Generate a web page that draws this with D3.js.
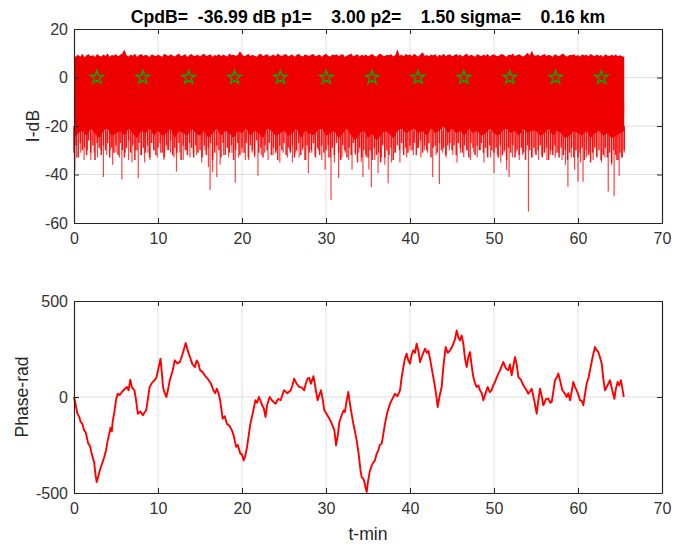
<!DOCTYPE html>
<html>
<head>
<meta charset="utf-8">
<script src="https://cdn.jsdelivr.net/npm/d3@7"></script>
<style>
  html, body { margin: 0; padding: 0; background: #fff; }
  svg { display: block; font-family: "Liberation Sans", Arial, Helvetica, sans-serif; }
  .tick text { fill: #333; font-size: 16px; }
  .tick line { stroke: #262626; }
  .domain { stroke: #262626; }
</style>
</head>
<body>
<svg id="fig" width="697" height="547"></svg>
<script>
// ---- Title ----
const titleText = "CpdB=  -36.99 dB p1=    3.00 p2=    1.50 sigma=    0.16 km";

// ---- Intensity panel (I-dB vs t-min) ----
// Peak level of the trace, one value every 0.25 min from 0 to 65.5 min
const peakStep = 0.25;
const intensityPeak = [
  7.8,8.9,9.4,8.6,9.8,8.4,9.2,9.6,8.8,9.3,8.5,9.7,9.0,8.7,9.5,8.9,9.9,8.6,9.3,9.1,
  9.6,8.8,9.4,9.9,11.5,9.2,8.7,9.5,9.0,9.8,8.6,9.3,9.7,8.9,9.4,9.1,8.5,9.6,9.2,8.8,
  9.5,9.0,8.6,9.8,9.3,8.9,9.6,9.1,8.7,9.4,9.9,8.8,9.2,9.6,8.5,9.3,9.7,8.9,9.0,9.5,
  8.7,9.4,9.8,8.9,9.2,9.6,8.6,9.3,9.0,9.7,8.8,9.5,9.1,8.7,9.9,9.2,9.4,9.0,9.3,10.8,
  9.6,8.8,9.2,9.7,8.9,9.4,9.0,8.6,9.5,9.8,8.9,9.3,9.6,8.7,9.1,9.5,8.8,9.9,9.2,8.9,
  9.4,9.7,8.8,9.2,9.5,8.6,9.3,9.8,9.0,8.7,9.6,9.2,8.9,9.4,9.7,8.8,9.1,9.5,8.6,9.3,
  9.8,9.0,8.7,9.5,9.2,9.6,8.9,9.3,9.7,8.5,9.1,9.4,9.9,8.8,9.2,9.6,8.7,9.4,9.0,9.5,
  8.8,9.3,9.7,9.0,8.6,9.5,9.8,9.1,8.9,9.4,9.2,9.6,8.7,9.3,11.6,9.0,9.4,8.8,9.7,9.2,
  9.5,8.9,9.8,9.2,8.7,9.6,10.4,9.0,9.3,8.8,9.5,9.1,9.7,8.6,9.4,9.0,9.8,8.9,9.3,9.6,
  8.8,9.2,9.7,9.0,9.5,8.7,9.3,9.9,8.9,9.4,9.1,8.6,9.6,9.2,8.8,9.5,9.0,9.7,8.7,9.3,
  9.6,9.0,8.8,9.4,9.7,9.1,8.6,9.5,9.2,9.8,8.9,9.3,9.6,9.0,8.7,9.4,10.2,9.1,11.0,9.2,
  9.0,9.5,8.8,9.3,9.7,8.9,9.4,9.1,8.6,9.6,9.2,8.8,9.5,9.9,9.0,8.7,9.4,9.2,9.6,8.9,
  9.3,8.7,9.6,9.1,9.4,8.8,9.7,9.2,8.9,9.5,9.0,9.3,8.6,9.6,9.1,8.9,9.4,9.0,9.5,8.8,
  9.2,8.9,8.5
];
// Fade level reached by most samples, same 0.25 min sampling
const intensityFade = [
  -31,-28,-33,-27,-30,-29,-32,-26,-31,-28,-34,-27,-29,-32,-28,-30,-27,-33,-29,-31,
  -28,-32,-27,-30,-33,-29,-26,-31,-28,-34,-30,-27,-32,-29,-31,-28,-33,-27,-30,-32,
  -29,-27,-31,-33,-28,-30,-26,-32,-29,-31,-27,-34,-28,-30,-32,-27,-29,-33,-28,-31,
  -30,-33,-28,-32,-29,-27,-34,-31,-28,-30,-33,-27,-32,-29,-31,-28,-34,-30,-27,-32,
  -29,-31,-27,-33,-28,-30,-32,-26,-31,-29,-33,-28,-30,-27,-32,-29,-31,-34,-28,-30,
  -27,-32,-29,-31,-28,-33,-30,-27,-32,-29,-34,-28,-31,-30,-27,-33,-29,-32,-28,-31,
  -30,-28,-33,-29,-32,-27,-31,-34,-28,-30,-33,-29,-32,-27,-31,-35,-29,-33,-30,-32,
  -33,-30,-34,-29,-32,-31,-35,-28,-33,-30,-32,-29,-34,-31,-28,-30,-27,-32,-29,-31,
  -28,-30,-27,-32,-29,-26,-31,-28,-30,-27,-33,-29,-28,-31,-27,-30,-29,-32,-28,-27,
  -30,-28,-32,-27,-29,-31,-28,-30,-33,-27,-29,-32,-28,-30,-27,-31,-29,-33,-28,-30,
  -31,-29,-33,-28,-32,-30,-34,-29,-31,-28,-33,-30,-32,-29,-31,-34,-28,-30,-33,-29,
  -32,-30,-28,-33,-31,-29,-34,-30,-32,-28,-31,-33,-29,-32,-30,-34,-31,-29,-33,-30,
  -33,-31,-29,-34,-30,-32,-35,-31,-29,-33,-30,-34,-32,-29,-33,-31,-35,-30,-32,-34,
  -31,-33,-30
];
// Solid lower edge of the dense band, one value every 0.5 min
const coreStep = 0.5;
const intensityCore = [
  -25, -23, -22, -24, -21, -23, -25, -22, -21, -24,
  -23, -22, -24, -21, -23, -25, -22, -23, -21, -24,
  -22, -24, -23, -21, -25, -22, -23, -24, -21, -23,
  -24, -22, -25, -23, -21, -24, -22, -23, -25, -22,
  -23, -21, -24, -22, -23, -25, -21, -22, -24, -23,
  -22, -24, -23, -21, -25, -22, -23, -24, -22, -21,
  -24, -23, -22, -25, -23, -21, -24, -26, -23, -22,
  -25, -23, -26, -24, -22, -23, -25, -22, -21, -23,
  -22, -21, -23, -22, -24, -21, -23, -22, -20, -23,
  -21, -23, -22, -24, -21, -23, -22, -24, -23, -21,
  -23, -24, -22, -21, -23, -22, -24, -21, -23, -22,
  -22, -24, -23, -21, -24, -22, -23, -25, -24, -22,
  -23, -24, -22, -25, -23, -22, -24, -23, -25, -24,
  -23, -22
];
// Deep fades below the dense band: [t-min, dB]
const fadeDips = [
  [0.1,-38.5],[0.3,-33],[0.8,-31],[1.2,-34],[1.6,-30],[2.0,-34],[2.4,-31],[2.8,-33],[3.2,-30],[3.5,-41],
  [3.9,-32],[4.3,-30],[4.6,-36],[5.0,-31],[5.4,-33],[5.7,-42],[6.1,-31],[6.5,-34],[6.9,-35],[7.3,-30],
  [7.65,-41.5],[8.0,-32],[8.4,-35],[8.8,-31],[9.05,-34],[9.5,-30],[9.9,-33],[10.3,-31],[10.7,-34],[11.1,-30],
  [11.5,-31],[11.9,-33],[12.2,-38.8],[12.6,-31],[13.0,-34],[13.4,-30],[13.8,-33],[14.2,-31],[14.6,-32],[15.2,-35],
  [15.6,-30],[16.0,-37],[16.2,-46.4],[16.5,-39],[17.0,-41],[17.4,-36],[17.8,-32],[18.4,-33],[18.8,-31],[19.2,-43.4],
  [19.6,-33],[20.0,-31],[20.4,-34],[20.8,-34],[21.2,-31],[21.5,-33],[21.9,-40.5],[22.3,-32],[22.7,-31],[23.1,-34],
  [23.7,-32],[24.1,-30],[24.5,-35],[24.9,-31],[25.4,-33],[25.7,-30],[26.0,-35],[26.4,-31],[26.8,-33],[27.2,-30],
  [27.6,-34],[27.9,-39.5],[28.3,-31],[28.7,-32],[29.1,-30],[29.5,-34],[29.9,-38],[30.3,-33],[30.6,-50.5],[31.0,-35],
  [31.5,-41.4],[31.9,-33],[32.3,-31],[32.7,-34],[33.1,-38],[33.5,-32],[33.9,-31],[34.2,-34.7],[34.4,-41],[34.8,-33],
  [35.1,-38],[35.4,-45.3],[35.8,-34],[36.2,-39.5],[36.6,-33],[37.0,-36],[37.4,-43.6],[37.8,-35],[38.2,-31],[38.8,-35],
  [39.2,-30],[39.6,-33],[40.0,-30],[40.4,-32],[40.9,-29],[41.3,-33],[41.7,-30],[42.1,-31],[42.7,-41],[43.1,-32],
  [43.5,-43.9],[43.9,-31],[44.3,-33],[44.7,-30],[45.1,-32],[45.6,-35],[46.0,-31],[46.4,-33],[46.8,-30],[47.2,-34],
  [47.6,-31],[48.0,-33],[48.4,-30],[48.8,-35],[49.2,-31],[49.6,-33],[50.0,-39.5],[50.4,-32],[50.8,-35],[51.2,-31],
  [51.5,-38],[51.8,-41],[52.2,-33],[52.6,-31],[53.0,-34],[53.4,-32],[53.8,-30],[54.1,-55.3],[54.5,-33],[54.9,-31],
  [55.3,-34],[55.7,-32],[56.0,-31],[56.3,-34],[56.7,-32],[57.0,-30],[57.3,-33],[57.7,-31],[58.1,-34],[58.5,-36],
  [58.8,-45],[59.2,-33],[59.6,-38],[60.0,-43],[60.3,-35],[60.6,-43],[61.0,-33],[61.4,-31],[61.8,-34],[62.2,-32],
  [62.8,-35],[63.2,-33],[63.6,-47],[64.0,-36],[64.3,-49],[64.6,-34],[64.9,-40.5],[65.2,-33],[65.5,-31]
];
// Reference markers (pentagrams)
const markerTime = [2.73, 8.19, 13.65, 19.11, 24.57, 30.03, 35.49, 40.95, 46.41, 51.87, 57.33, 62.79];
const markerValue = [0, 0, 0, 0, 0, 0, 0, 0, 0, 0, 0, 0];

// ---- Phase panel (Phase-rad vs t-min) ----
const phaseTime = [
  0,0.2,0.4,0.6,0.8,1.0,1.2,1.4,1.7,1.9,2.1,2.4,2.55,2.7,2.85,3.0,3.2,3.4,3.6,3.8,
  4.0,4.2,4.35,4.5,4.6,4.8,5.0,5.2,5.45,5.7,6.0,6.3,6.5,6.7,6.9,7.2,7.4,7.6,7.9,8.2,
  8.4,8.6,8.8,9.0,9.3,9.6,9.8,10.0,10.3,10.45,10.6,10.8,11.0,11.2,11.4,11.7,12.0,12.3,12.6,12.9,
  13.3,13.55,13.8,14.1,14.4,14.6,14.8,15.0,15.3,15.6,16.0,16.3,16.6,16.8,17.0,17.2,17.4,17.7,17.95,18.2,
  18.5,18.8,19.0,19.3,19.5,19.8,20.0,20.2,20.4,20.6,20.8,21.0,21.3,21.6,21.8,22.0,22.2,22.4,22.6,22.8,
  23.0,23.3,23.6,24.0,24.3,24.6,24.8,25.0,25.4,25.8,26.0,26.2,26.5,26.8,27.1,27.4,27.6,27.8,28.0,28.2,
  28.5,28.7,29.0,29.2,29.4,29.6,29.8,30.1,30.4,30.7,31.0,31.2,31.4,31.6,31.86,32.1,32.26,32.45,32.66,32.9,
  33.25,33.45,33.65,33.9,34.1,34.25,34.5,34.7,34.84,35.0,35.24,35.5,35.83,36.0,36.23,36.4,36.63,36.8,37.02,37.3,
  37.62,37.9,38.21,38.5,38.81,39.0,39.21,39.4,39.6,39.8,40.0,40.2,40.4,40.6,40.79,41.0,41.19,41.5,41.79,42.0,
  42.2,42.38,42.7,42.98,43.15,43.29,43.5,43.77,44.0,44.25,44.5,44.76,45.0,45.16,45.35,45.56,45.75,45.95,46.15,46.35,
  46.55,46.75,46.95,47.14,47.35,47.54,47.75,47.94,48.15,48.33,48.55,48.73,49.0,49.25,49.5,49.72,49.9,50.12,50.4,50.71,
  50.9,51.11,51.4,51.71,51.9,52.1,52.3,52.5,52.7,52.9,53.2,53.49,53.8,54.09,54.3,54.48,54.8,55.08,55.3,55.48,
  55.7,55.87,56.2,56.47,56.7,56.87,57.1,57.26,57.45,57.66,57.9,58.13,58.4,58.65,58.85,59.05,59.25,59.44,59.65,59.84,
  60.05,60.24,60.45,60.63,60.85,61.03,61.25,61.43,61.7,62.02,62.2,62.42,62.6,62.82,63.0,63.21,63.5,63.81,64.05,64.33,
  64.5,64.72,64.9,65.12,65.3,65.45
];
const phaseValue = [
  0,-40,-87,-100,-130,-140,-174,-185,-243,-255,-295,-340,-400,-443,-420,-395,-365,-340,-313,-280,
  -230,-191,-160,-180,-130,-80,-17,17,10,26,40,52,35,90,50,35,-20,-87,-75,-95,
  -80,-69,-10,52,75,87,100,139,200,130,52,20,0,40,87,130,191,175,182,220,
  281,240,208,170,156,190,177,140,130,110,90,70,35,20,43,20,-17,-113,-100,-139,
  -150,-174,-200,-260,-250,-295,-300,-330,-305,-260,-200,-139,-80,-17,-30,0,-20,-43,-60,-104,
  -40,0,-20,-35,-10,-17,10,35,20,35,60,95,70,52,50,35,70,95,100,69,
  108,60,-17,10,35,-10,-69,-90,-113,-140,-174,-252,-200,-130,-95,-70,-78,-20,26,-50,
  -139,-180,-226,-300,-380,-417,-430,-470,-495,-440,-382,-350,-330,-300,-278,-250,-243,-200,-139,-80,
  -35,-10,17,5,35,100,156,200,226,190,174,220,243,230,278,240,182,220,252,230,
  240,200,120,52,0,-52,0,52,170,260,230,243,260,278,300,347,310,295,320,278,
  200,156,210,234,160,104,70,52,60,35,20,-17,20,52,25,35,60,78,110,139,
  160,182,150,139,170,113,160,208,170,104,90,61,40,17,30,43,-20,-87,-10,43,
  0,-43,-10,-9,-30,-26,40,87,100,122,80,35,20,0,20,-17,30,78,50,35,
  10,-17,-20,-43,20,69,100,139,200,260,245,234,210,174,100,35,60,87,40,-9,
  40,78,60,87,40,0
];

// ---- Axis ticks ----
const timeTicks = [0, 10, 20, 30, 40, 50, 60, 70];
const intensityTicks = [20, 0, -20, -40, -60];
const phaseTicks = [500, 0, -500];

// ---- Layout ----
const svg = d3.select("#fig");
const left = 74, right = 662;
const panels = {
  top: { y0: 29, y1: 223 },
  bottom: { y0: 301, y1: 493 }
};
const plain = d => String(d);   // ASCII hyphen for negatives

const x = d3.scaleLinear().domain([0, 70]).range([left, right]);
const yI = d3.scaleLinear().domain([-60, 20]).range([panels.top.y1, panels.top.y0]);
const yP = d3.scaleLinear().domain([-500, 500]).range([panels.bottom.y1, panels.bottom.y0]);

function grid(g, yScale, yTicks, y0, y1) {
  g.append("g").selectAll("line").data(timeTicks.slice(1, -1)).join("line")
    .attr("x1", d => x(d)).attr("x2", d => x(d))
    .attr("y1", y0).attr("y2", y1)
    .attr("stroke", "#dfdfdf").attr("stroke-width", 1);
  g.append("g").selectAll("line").data(yTicks.slice(1, -1)).join("line")
    .attr("x1", left).attr("x2", right)
    .attr("y1", d => yScale(d)).attr("y2", d => yScale(d))
    .attr("stroke", "#dfdfdf").attr("stroke-width", 1);
}

function frame(yScale, yTicks, y0, y1) {
  const g = svg.append("g");
  g.append("g").attr("transform", `translate(0,${y1})`)
    .call(d3.axisBottom(x).tickValues(timeTicks).tickFormat(plain).tickSize(-5).tickSizeOuter(0).tickPadding(10));
  g.append("g").attr("transform", `translate(0,${y0})`)
    .call(d3.axisTop(x).tickValues(timeTicks).tickSize(-5).tickSizeOuter(0).tickFormat(""));
  g.append("g").attr("transform", `translate(${left},0)`)
    .call(d3.axisLeft(yScale).tickValues(yTicks).tickFormat(plain).tickSize(-5).tickSizeOuter(0).tickPadding(6));
  g.append("g").attr("transform", `translate(${right},0)`)
    .call(d3.axisRight(yScale).tickValues(yTicks).tickSize(-5).tickSizeOuter(0).tickFormat(""));
  g.selectAll(".domain").attr("stroke-width", 1.2);
  g.selectAll(".tick line").attr("stroke-width", 1);
  return g;
}

// ---- Top panel ----
const gTop = svg.append("g");
grid(gTop, yI, intensityTicks, panels.top.y0, panels.top.y1);

const red = "#ee0000";
// upper ragged edge of the band
gTop.append("path")
  .datum(intensityPeak.map((v, i) => [i * peakStep, v]))
  .attr("fill", red)
  .attr("d", d3.area().x(d => x(d[0])).y0(yI(-15)).y1(d => yI(d[1])));
// solid core down to its lower edge
gTop.append("path")
  .datum(intensityCore.map((v, i) => [i * coreStep, v]))
  .attr("fill", red)
  .attr("d", d3.area().x(d => x(d[0])).y0(d => yI(d[1])).y1(yI(-10)));
// typical fades
gTop.append("g").selectAll("line").data(intensityFade).join("line")
  .attr("x1", (d, i) => x(i * peakStep)).attr("x2", (d, i) => x(i * peakStep))
  .attr("y1", yI(-20)).attr("y2", d => yI(d))
  .attr("stroke", "#f00000").attr("stroke-width", 1.5).attr("stroke-opacity", 0.9);
// deep fades
gTop.append("g").selectAll("line").data(fadeDips).join("line")
  .attr("x1", d => x(d[0])).attr("x2", d => x(d[0]))
  .attr("y1", yI(-22)).attr("y2", d => yI(d[1]))
  .attr("stroke", "#ff0000").attr("stroke-width", 1.2).attr("stroke-opacity", 0.75);

gTop.append("g").selectAll("path").data(markerTime).join("path")
  .attr("transform", (d, i) => `translate(${x(d)},${yI(markerValue[i])})`)
  .attr("d", d3.symbol().type(d3.symbolStar).size(56))
  .attr("fill", "none").attr("stroke", "#00b400").attr("stroke-width", 1.3);

frame(yI, intensityTicks, panels.top.y0, panels.top.y1);

// ---- Bottom panel ----
const gBot = svg.append("g");
grid(gBot, yP, phaseTicks, panels.bottom.y0, panels.bottom.y1);
gBot.append("path")
  .datum(phaseTime.map((t, i) => [t, phaseValue[i]]))
  .attr("fill", "none").attr("stroke", "#ff0000").attr("stroke-width", 1.9)
  .attr("stroke-linejoin", "round")
  .attr("d", d3.line().x(d => x(d[0])).y(d => yP(d[1])));
frame(yP, phaseTicks, panels.bottom.y0, panels.bottom.y1);

// ---- Labels ----
svg.append("text")
  .attr("x", (left + right) / 2).attr("y", 23)
  .attr("text-anchor", "middle")
  .style("white-space", "pre")
  .attr("font-size", 17.6).attr("font-weight", "bold").attr("fill", "#000")
  .text(titleText);

svg.append("text")
  .attr("transform", `translate(39,${(panels.top.y0 + panels.top.y1) / 2}) rotate(-90)`)
  .attr("text-anchor", "middle").attr("font-size", 17.6).attr("fill", "#262626")
  .text("I-dB");

svg.append("text")
  .attr("transform", `translate(28,${(panels.bottom.y0 + panels.bottom.y1) / 2}) rotate(-90)`)
  .attr("text-anchor", "middle").attr("font-size", 17.6).attr("fill", "#262626")
  .text("Phase-rad");

svg.append("text")
  .attr("x", (left + right) / 2).attr("y", 540)
  .attr("text-anchor", "middle").attr("font-size", 17.6).attr("fill", "#262626")
  .text("t-min");
</script>
</body>
</html>
